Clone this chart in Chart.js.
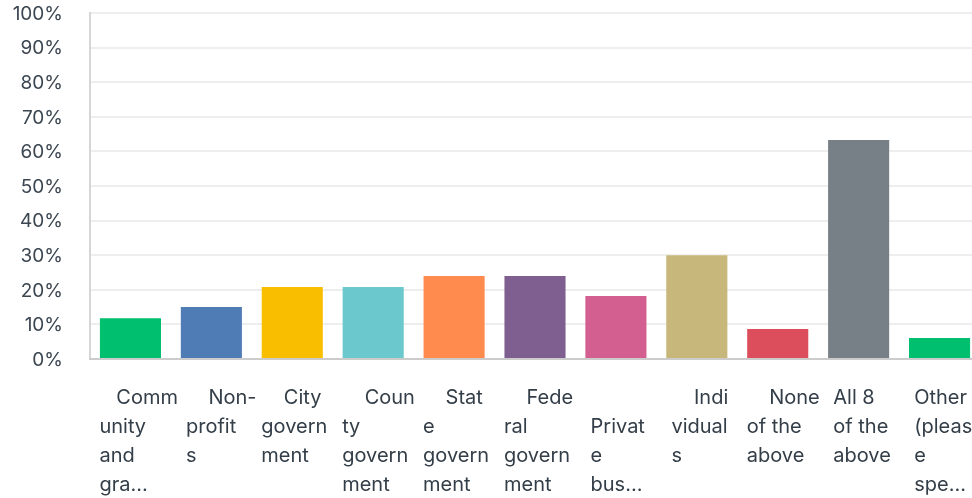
<!DOCTYPE html>
<html>
<head>
<meta charset="utf-8">
<script src="https://cdn.jsdelivr.net/npm/chart.js@4/dist/chart.umd.min.js"></script>
<style>
  html, body { margin: 0; padding: 0; background: #ffffff; overflow: hidden; }
  #wrap { width: 980px; height: 498px; position: relative; }
</style>
</head>
<body>
<div id="wrap"><canvas id="answersChart"></canvas></div>
<script>
// categories (as shown, truncated by the survey tool)
const categories = [
    'Community and gra...', 'Non-profits', 'City government', 'County government',
    'State government', 'Federal government', 'Private bus...', 'Individuals',
    'None of the above', 'All 8 of the above', 'Other (please spe...'
];

// wrapped tick labels as they appear under each bar
const tickLines = [
    ['   Comm', 'unity', 'and', 'gra...'],
    ['     Non-', ' profit', ' s'],
    ['    City', 'govern', 'ment'],
    ['    Coun', 'ty', 'govern', 'ment'],
    ['    Stat', 'e', 'govern', 'ment'],
    ['    Fede', 'ral', 'govern', 'ment'],
    ['', ' Privat', ' e', ' bus...'],
    ['     Indi', ' vidual', ' s'],
    ['    None', 'of the', 'above'],
    [' All 8', ' of the', ' above'],
    [' Other', ' (pleas', ' e', ' spe...']
];

// percent of respondents
const percentValues = [11.8, 15.0, 20.8, 20.8, 24.0, 24.0, 18.2, 30.0, 8.7, 63.3, 6.1];

const barColors = [
    '#00bf6f', '#507cb6', '#f9be00', '#6bc8cd', '#ff8b4f', '#7f5f90',
    '#d25f90', '#c8b77a', '#dc4e5c', '#778087', '#00bf6f'
];

const yTicks = [0, 10, 20, 30, 40, 50, 60, 70, 80, 90, 100];

document.addEventListener('DOMContentLoaded', function() {
    initAnswersChart();
});

function initAnswersChart() {
    const ctx = document.getElementById('answersChart').getContext('2d');

    new Chart(ctx, {
        type: 'bar',
        data: {
            labels: tickLines,
            datasets: [{
                label: 'Responses',
                data: percentValues,
                backgroundColor: barColors,
                borderWidth: 0,
                barPercentage: 0.755,
                categoryPercentage: 1
            }]
        },
        options: {
            responsive: true,
            maintainAspectRatio: false,
            animation: false,
            layout: {
                padding: { top: 13, left: 11, right: 0, bottom: 0 }
            },
            plugins: {
                legend: { display: false },
                tooltip: { enabled: false }
            },
            scales: {
                y: {
                    min: 0,
                    max: 100,
                    afterFit: function(scale) {
                        scale.width = 79;
                        scale.paddingTop = 0;
                        scale.paddingBottom = 0;
                    },
                    afterBuildTicks: function(scale) {
                        scale.ticks = yTicks.map(v => ({ value: v }));
                    },
                    ticks: {
                        color: '#3b4651',
                        padding: 27,
                        labelOffset: 1,
                        font: { family: 'Inter', size: 19 },
                        callback: function(v) { return v + '%'; }
                    },
                    grid: {
                        color: '#eeeeee',
                        lineWidth: 2,
                        drawTicks: false
                    },
                    border: {
                        display: true,
                        color: '#d6d6d6',
                        width: 2
                    }
                },
                x: {
                    afterFit: function(scale) {
                        scale.height = 139;
                        scale.paddingLeft = 0;
                        scale.paddingRight = 0;
                    },
                    ticks: {
                        color: '#333e48',
                        align: 'start',
                        labelOffset: -31,
                        padding: 24,
                        autoSkip: false,
                        maxRotation: 0,
                        minRotation: 0,
                        font: { family: 'Inter', size: 20, lineHeight: 1.45 }
                    },
                    grid: {
                        display: false,
                        drawTicks: false
                    },
                    border: {
                        display: true,
                        color: '#cccccc',
                        width: 2
                    }
                }
            }
        }
    });
}
</script>
</body>
</html>
